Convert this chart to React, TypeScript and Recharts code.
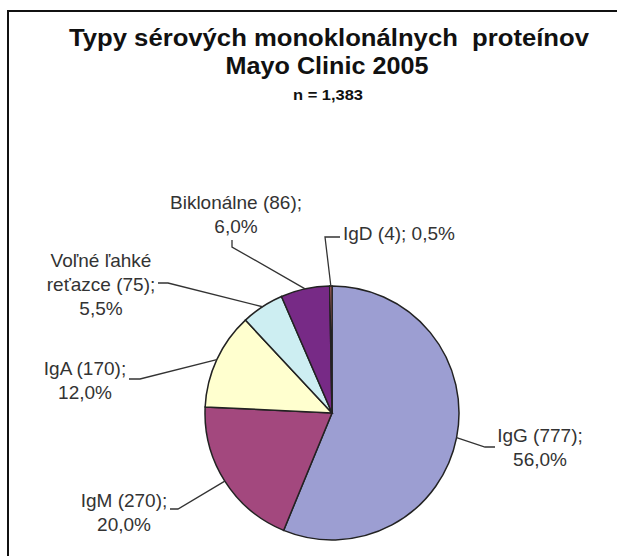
import React from "react";
import { Pie, PieChart, Cell } from "recharts";

// Typy sérových monoklonálnych proteínov, Mayo Clinic 2005
const categories = ["IgG", "IgM", "IgA", "Voľné ľahké reťazce", "Biklonálne", "IgD"];
const counts = [777, 270, 170, 75, 86, 4];
const percentLabels = ["56,0%", "20,0%", "12,0%", "5,5%", "6,0%", "0,5%"];
const labelLines = [
  ["IgG (777);", "56,0%"],
  ["IgM (270);", "20,0%"],
  ["IgA (170);", "12,0%"],
  ["Voľné ľahké", "reťazce (75);", "5,5%"],
  ["Biklonálne (86);", "6,0%"],
  ["IgD (4); 0,5%"],
];
const titleLines = ["Typy sérových monoklonálnych  proteínov", "Mayo Clinic 2005"];
const subtitle = "n = 1,383";

const colors = ["#9c9ed2", "#a3487e", "#ffffcf", "#cdeef2", "#772a86", "#f08278"];

// label placement: text position + leader elbow/end points
const labelLayout = [
  { x: 540, y: 435, anchor: "middle", elbow: [485, 447], end: [495, 447] },
  { x: 124, y: 500, anchor: "middle", elbow: [178, 509], end: [170, 509] },
  { x: 85, y: 368, anchor: "middle", elbow: [140, 379], end: [129, 379] },
  { x: 101, y: 260, anchor: "middle", elbow: [168, 283], end: [158, 283] },
  { x: 236, y: 202, anchor: "middle", elbow: [232, 247], end: [232, 240] },
  { x: 343, y: 233, anchor: "start", elbow: [325, 237], end: [340, 237] },
];

const data = categories.map((name, i) => ({
  name,
  value: counts[i],
  percent: percentLabels[i],
}));

const RADIAN = Math.PI / 180;
const FONT = "'Liberation Sans', Arial, sans-serif";

const renderLabel = (props: any) => {
  const { cx, cy, midAngle, outerRadius, index } = props;
  const lay = labelLayout[index];
  const ax = cx + outerRadius * Math.cos(-midAngle * RADIAN);
  const ay = cy + outerRadius * Math.sin(-midAngle * RADIAN);
  const pts = `${ax},${ay} ${lay.elbow[0]},${lay.elbow[1]} ${lay.end[0]},${lay.end[1]}`;
  return (
    <g key={`lbl-${index}`}>
      <polyline points={pts} fill="none" stroke="#333" strokeWidth={1.3} />
      <text
        x={lay.x}
        y={lay.y}
        textAnchor={lay.anchor}
        fill="#333"
        fontSize={19}
        fontFamily={FONT}
      >
        {labelLines[index].map((line, j) => (
          <tspan key={j} x={lay.x} y={lay.y + j * 24} dominantBaseline="central">
            {line}
          </tspan>
        ))}
      </text>
    </g>
  );
};

export default function App() {
  return (
    <div
      style={{
        position: "absolute",
        left: 0,
        top: 0,
        width: 617,
        height: 556,
        background: "#fff",
        overflow: "hidden",
        fontFamily: FONT,
      }}
    >
      <div style={{ position: "absolute", left: 7, top: 10, width: 2, height: 560, background: "#111" }} />
      <div style={{ position: "absolute", left: 7, top: 10, width: 620, height: 2, background: "#111" }} />
      <svg
        width={617}
        height={120}
        style={{ position: "absolute", left: 0, top: 0, whiteSpace: "pre" }}
        fontFamily={FONT}
        fontWeight="bold"
        fill="#111"
        textAnchor="middle"
      >
        <text x={329} y={46} fontSize={23} textLength={520} lengthAdjust="spacingAndGlyphs" xmlSpace="preserve">
          {titleLines[0]}
        </text>
        <text x={327} y={74} fontSize={23} textLength={203} lengthAdjust="spacingAndGlyphs">
          {titleLines[1]}
        </text>
        <text x={328} y={100} fontSize={14} textLength={70} lengthAdjust="spacingAndGlyphs">
          {subtitle}
        </text>
      </svg>
      <div style={{ position: "absolute", left: 0, top: 0 }}>
        <PieChart width={617} height={556}>
          <Pie
            data={data}
            dataKey="value"
            nameKey="name"
            cx={327}
            cy={408}
            outerRadius={127}
            startAngle={90}
            endAngle={-270}
            stroke="#222"
            strokeWidth={1.5}
            label={renderLabel}
            labelLine={false}
            isAnimationActive={false}
          >
            {data.map((d, i) => (
              <Cell key={d.name} fill={colors[i]} />
            ))}
          </Pie>
        </PieChart>
      </div>
    </div>
  );
}
